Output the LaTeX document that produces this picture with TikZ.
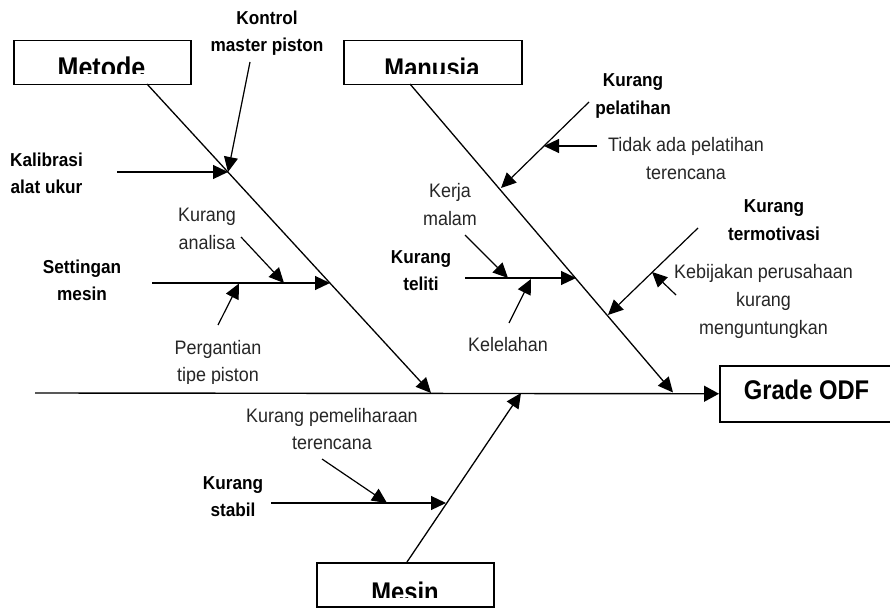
\documentclass[tikz,border=0pt]{standalone}
\usepackage{fontspec}
\setmainfont[FakeStretch=0.92]{Liberation Sans}
\newfontfamily\titlefont[FakeStretch=0.88]{Liberation Sans}
\usetikzlibrary{arrows.meta}

\tikzset{
  tip/.style={-{Triangle[length=15pt,width=14pt]}},
  spine/.style={line width=1.4pt, -{Triangle[length=15pt,width=16pt]}},
  bone/.style={line width=1.3pt, tip},
  cause/.style={line width=1.2pt, tip},
  titlebox/.style={draw, line width=1.5pt, anchor=north west, inner sep=0pt},
  titletext/.style={font=\titlefont\fontsize{27}{30}\selectfont\bfseries, anchor=base, inner sep=0pt},
  % multi-line labels are placed by the baseline of their last line
  boldlbl/.style={font=\fontsize{18.7}{27.5}\selectfont\bfseries, align=center, anchor=base, inner sep=0pt},
  lbl/.style={font=\fontsize{19.5}{27.5}\selectfont, align=center, anchor=base, inner sep=0pt, text=black!85},
}

\begin{document}
\begin{tikzpicture}[x=1pt,y=-1pt]
\useasboundingbox (0,0) rectangle (890,609);

% category boxes and effect box
\node[titlebox, minimum width=177pt, minimum height=44pt] (metode)  at (13,40) {};
\node[titlebox, minimum width=178pt, minimum height=44pt] (manusia) at (343,40) {};
\node[titlebox, minimum width=177pt, minimum height=44pt] (mesin)   at (316,562) {};
\node[titlebox, minimum width=190pt, minimum height=56pt] (grade)   at (719,365) {};

% box captions (cut off by the lower part of the frame)
\begin{scope}
  \clip (0,0) rectangle (890,74);
  \node[titletext] (metodeT)  at (101.5,77.4) {\fontsize{28.5}{30}\selectfont Metode};
  \node[titletext] (manusiaT) at (432,77.3) {Manusia};
\end{scope}
\begin{scope}
  \clip (0,540) rectangle (890,597);
  \node[titletext] (mesinT) at (405,601) {Mesin};
\end{scope}
\node[titletext] (gradeT) at (806.5,399) {Grade ODF};

% spine and main bones
\coordinate (sp0) at (35,393);
\coordinate (mb0) at (147,84);   \coordinate (mb1) at (431,393);
\coordinate (nb0) at (410,84);   \coordinate (nb1) at (673,392.5);
\coordinate (eb0) at (407,562);  \coordinate (eb1) at (521,393);

\draw[spine] (sp0) -- (grade.west);
\draw[bone] (mb0) -- (mb1);
\draw[bone] (nb0) -- (nb1);
\draw[bone] (eb0) -- (eb1);

% Metode causes
\coordinate (m1) at (228,172);
\coordinate (m2) at (330,283);
\coordinate (s1) at (284,283);
\coordinate (s2) at (239,283.5);
\coordinate (k0) at (250,62);
\coordinate (c0) at (117,172);
\coordinate (s0) at (152,283);
\coordinate (a0) at (241,237);
\coordinate (g0) at (218,325);
\draw[cause] (k0) -- (m1);
\draw[cause] (c0) -- (m1);
\draw[cause] (s0) -- (m2);
\draw[cause] (a0) -- (s1);
\draw[cause] (g0) -- (s2);

% Manusia causes
\coordinate (n1) at (501,188);
\coordinate (p1) at (544,146);
\coordinate (n2) at (576,278);
\coordinate (t1) at (508,278);
\coordinate (t2) at (531,279);
\coordinate (n3) at (608,315);
\coordinate (k1) at (652,272);
\coordinate (p0) at (589,102);
\coordinate (td0) at (597,146);
\coordinate (t0) at (465,278);
\coordinate (kj0) at (465,235);
\coordinate (kl0) at (509,323);
\coordinate (tm0) at (698,228);
\coordinate (kb0) at (676,295);
\draw[cause] (p0) -- (n1);
\draw[cause] (td0) -- (p1);
\draw[cause] (t0) -- (n2);
\draw[cause] (kj0) -- (t1);
\draw[cause] (kl0) -- (t2);
\draw[cause] (tm0) -- (n3);
\draw[cause] (kb0) -- (k1);

% Mesin causes
\coordinate (e1) at (446,503);
\coordinate (e2) at (387,503);
\coordinate (st0) at (271,503);
\coordinate (pm0) at (322,459);
\draw[cause] (st0) -- (e1);
\draw[cause] (pm0) -- (e2);

% labels
\node[boldlbl] (lKontrol)   at (267,52)    {Kontrol\\master piston};
\node[boldlbl] (lKalibrasi) at (46.5,194)  {Kalibrasi\\alat ukur};
\node[lbl]     (lAnalisa)   at (207,249.5) {Kurang\\analisa};
\node[boldlbl] (lSetting)   at (82,300.5)  {Settingan\\mesin};
\begin{scope}
  \clip (0,330) rectangle (890,383);
  \node[lbl] (lGanti) at (218,381.5) {Pergantian\\tipe piston};
\end{scope}
\node[lbl]     (lKerja)     at (450,225.5) {Kerja\\malam};
\node[boldlbl] (lTeliti)    at (421,290.5) {Kurang\\teliti};
\node[lbl]     (lLelah)     at (508,351)   {Kelelahan};
\node[boldlbl] (lLatih)     at (633,114.5) {Kurang\\pelatihan};
\node[lbl]     (lTidak)     at (686,179.2) {Tidak ada pelatihan\\terencana};
\node[boldlbl] (lMotiv)     at (774,240.5) {Kurang\\termotivasi};
\node[lbl]     (lBijak)     at (763.5,334) {Kebijakan perusahaan\\kurang\\menguntungkan};
\node[lbl]     (lPelihara)  at (332,449.5) {Kurang pemeliharaan\\terencana};
\node[boldlbl] (lStabil)    at (233,516.5) {Kurang\\stabil};
\end{tikzpicture}
\end{document}
